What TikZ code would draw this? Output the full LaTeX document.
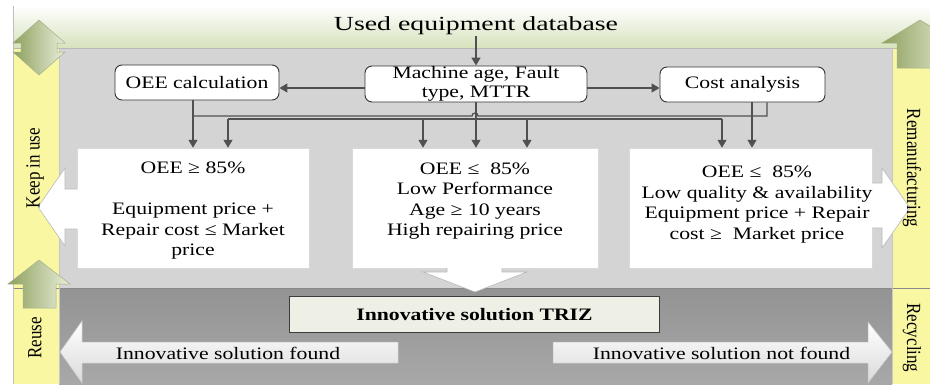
\documentclass[tikz,border=0pt]{standalone}
\usepackage{graphicx}
\usepackage{fontspec}
\setmainfont{Liberation Serif}[FakeStretch=1.24]
\newfontfamily\plainserif{Liberation Serif}
\newfontfamily\titlefont{Liberation Serif}[FakeStretch=1.39]
\usetikzlibrary{arrows.meta,calc}
\definecolor{midgray}{HTML}{D4D4D4}
\definecolor{ylw}{HTML}{FAF7A3}
\definecolor{topgreen}{HTML}{D6E2BC}
\definecolor{cline}{HTML}{505050}
\definecolor{gdark}{HTML}{8DA05C}
\definecolor{glight}{HTML}{E9EEDB}
\definecolor{gedge}{HTML}{A4B08A}
\definecolor{trizfill}{HTML}{EEF0E5}
\definecolor{trizdraw}{HTML}{3C3C3C}
\definecolor{darktop}{HTML}{939393}
\definecolor{darkbot}{HTML}{A8A8A8}
\definecolor{bandline}{HTML}{8A8A8A}
\definecolor{arrgray}{HTML}{DADADA}
\newcommand{\tallside}[1]{\scalebox{1}[1.18]{#1}}
\tikzset{
  conn/.style={draw=cline, line width=1.3pt, -{Triangle[length=8pt,width=9pt]}},
  plainline/.style={draw=cline, line width=1.3pt},
  rbox/.style={draw=black!80, fill=white, rounded corners=7pt, line width=0.9pt, inner sep=0pt, align=center, font=\fontsize{17.5}{19}\selectfont},
  condbox/.style={fill=white, draw=gray!30, line width=0.5pt, inner sep=0pt},
  condtext/.style={align=center, inner sep=0pt, font=\fontsize{17.5}{20.5}\selectfont},
  bottomtext/.style={inner sep=0pt, font=\fontsize{17.5}{20}\selectfont},
  sidelabel/.style={font=\plainserif\fontsize{17}{17}\selectfont, inner sep=0pt},
  arrowedge/.style={draw=gray!55, line width=0.6pt},
  greenarrow/.style={left color=gdark, right color=glight, draw=gedge, line width=0.5pt},
  greyarrow/.style={top color=white, bottom color=arrgray, draw=gray!45, line width=0.5pt},
}
\begin{document}
\begin{tikzpicture}[x=1pt,y=-1pt]
\useasboundingbox (0,0) rectangle (930,384);
\clip (0,0) rectangle (930,384);
% backgrounds
\fill[white] (0,0) rectangle (930,384);
\shade[top color=white, bottom color=topgreen] (13,6) rectangle (930,48);
\fill[midgray] (59,48) rectangle (892,288);
\shade[top color=darktop, bottom color=darkbot] (59,288) rectangle (892,384);
\fill[ylw] (13,48) rectangle (59,384);
\fill[ylw] (892,48) rectangle (930,384);
\draw[gray!55, line width=0.6pt] (13,48) -- (930,48);
\draw[bandline, line width=1pt] (13,288) -- (930,288);
\draw[gray!50, line width=0.6pt] (13,6) -- (13,384);
\draw[gray!45, line width=0.5pt] (59,48) -- (59,384);
\draw[gray!45, line width=0.5pt] (892,48) -- (892,384);
% green arrows
\draw[greenarrow] (39,20) -- (65,43) -- (57,43) -- (57,52) -- (65,52) -- (39,75) -- (13,52) -- (21,52) -- (21,43) -- (13,43) -- cycle;
\draw[greenarrow] (920,20) -- (958,43) -- (943,43) -- (943,68) -- (897,68) -- (897,43) -- (882,43) -- cycle;
\draw[greenarrow] (39,260) -- (70,284) -- (56,284) -- (56,308) -- (23,308) -- (23,284) -- (8,284) -- cycle;
% condition boxes
\node[condbox, minimum width=232pt, minimum height=120pt] (b1) at (193,208) {};
\node[condbox, minimum width=246pt, minimum height=120pt] (b2) at (475,208) {};
\node[condbox, minimum width=243pt, minimum height=120pt] (b3) at (750.5,208) {};
% white arrows out of the boxes
\fill[white] (79,189) -- (65,189) -- (65,168) -- (38,207) -- (65,246) -- (65,229) -- (79,229) -- cycle;
\draw[arrowedge] (77,189) -- (65,189) -- (65,168) -- (38,207) -- (65,246) -- (65,229) -- (77,229);
\fill[white] (870,183) -- (882,183) -- (882,168) -- (910,208) -- (882,248) -- (882,228) -- (870,228) -- cycle;
\draw[arrowedge] (872,183) -- (882,183) -- (882,168) -- (910,208) -- (882,248) -- (882,228) -- (872,228);
\fill[white] (447,266) -- (447,272) -- (423,272) -- (475,292) -- (527,272) -- (502,272) -- (502,266) -- cycle;
\draw[arrowedge] (447,268) -- (447,272) -- (423,272) -- (475,292) -- (527,272) -- (502,272) -- (502,268);
% texts of condition boxes
\node[condtext] (t1) at (193,211) {OEE ≥ 85\%\\[20.5pt]Equipment price +\\Repair cost ≤ Market\\price};
\node[condtext] (t2) at (475,201) {OEE ≤~ 85\%\\Low Performance\\Age ≥ 10 years\\High repairing price};
\node[condtext] (t3) at (757,204.5) {OEE ≤~ 85\%\\Low quality \& availability\\Equipment price + Repair\\cost ≥~ Market price};
% title and analysis boxes
\node[font=\titlefont\fontsize{20}{22}\selectfont, inner sep=1pt] (title) at (476,26) {Used equipment database};
\node[rbox, minimum width=164pt, minimum height=35pt] (calc) at (197,82.5) {OEE calculation};
\node[rbox, minimum width=222pt, minimum height=36pt] (mid) at (476,84) {Machine age, Fault\\type, MTTR};
\node[rbox, minimum width=165pt, minimum height=35pt] (cost) at (742.5,84.5) {Cost analysis};
% connectors
\draw[conn] (title.south) -- (mid.north);
\coordinate (ml) at ($(mid.west)+(0,4)$);
\coordinate (mr) at ($(mid.east)+(0,4)$);
\draw[conn] (ml) -- (ml -| calc.east);
\draw[conn] (mr) -- (mr -| cost.west);
\coordinate (ja) at (193,116);
\coordinate (ca) at ($(cost.south)+(24.5,0)$);
\coordinate (cb) at ($(cost.south)+(9.5,0)$);
\draw[conn] (calc.south -| b1.north) -- (b1.north);
\draw[conn] (mid.south) -- (mid.south |- b2.north);
\draw[plainline] (ja) -- (472,116) arc(180:360:3) -- (ca |- ja) -- (ca);
\coordinate (lb1) at (228,119);
\coordinate (lb2) at (722,119);
\coordinate (lb3) at (423,119);
\coordinate (lb4) at (527,119);
\draw[plainline] (lb1) -- (lb2);
\draw[conn] (lb1) -- (lb1 |- b1.north);
\draw[conn] (lb3) -- (lb3 |- b2.north);
\draw[conn] (lb4) -- (lb4 |- b2.north);
\draw[conn] (lb2) -- (lb2 |- b3.north);
\draw[conn] (cb) -- (cb |- b3.north);
% TRIZ box
\node[draw=trizdraw, fill=trizfill, line width=1.8pt, minimum width=370pt, minimum height=36pt, inner sep=0pt, font=\bfseries\fontsize{17.5}{20}\selectfont] (triz) at (474.5,314.5) {Innovative solution TRIZ};
% bottom arrows
\draw[greyarrow] (398,342) -- (82,342) -- (82,321) -- (60,352) -- (82,383) -- (82,363) -- (398,363) -- cycle;
\draw[greyarrow] (553,342) -- (868,342) -- (868,322) -- (892,352) -- (868,383) -- (868,363) -- (553,363) -- cycle;
\node[bottomtext] (found) at (228,353) {Innovative solution found};
\node[bottomtext] (notfound) at (721.5,353) {Innovative solution not found};
% side labels
\node[sidelabel, rotate=90] (keep) at (35,168) {\tallside{Keep in use}};
\node[sidelabel, rotate=90] (reuse) at (35,338) {\tallside{Reuse}};
\node[sidelabel, rotate=-90] (reman) at (912,168) {\tallside{Remanufacturing}};
\node[sidelabel, rotate=-90] (recyc) at (912,338) {\tallside{Recycling}};
\end{tikzpicture}
\end{document}
